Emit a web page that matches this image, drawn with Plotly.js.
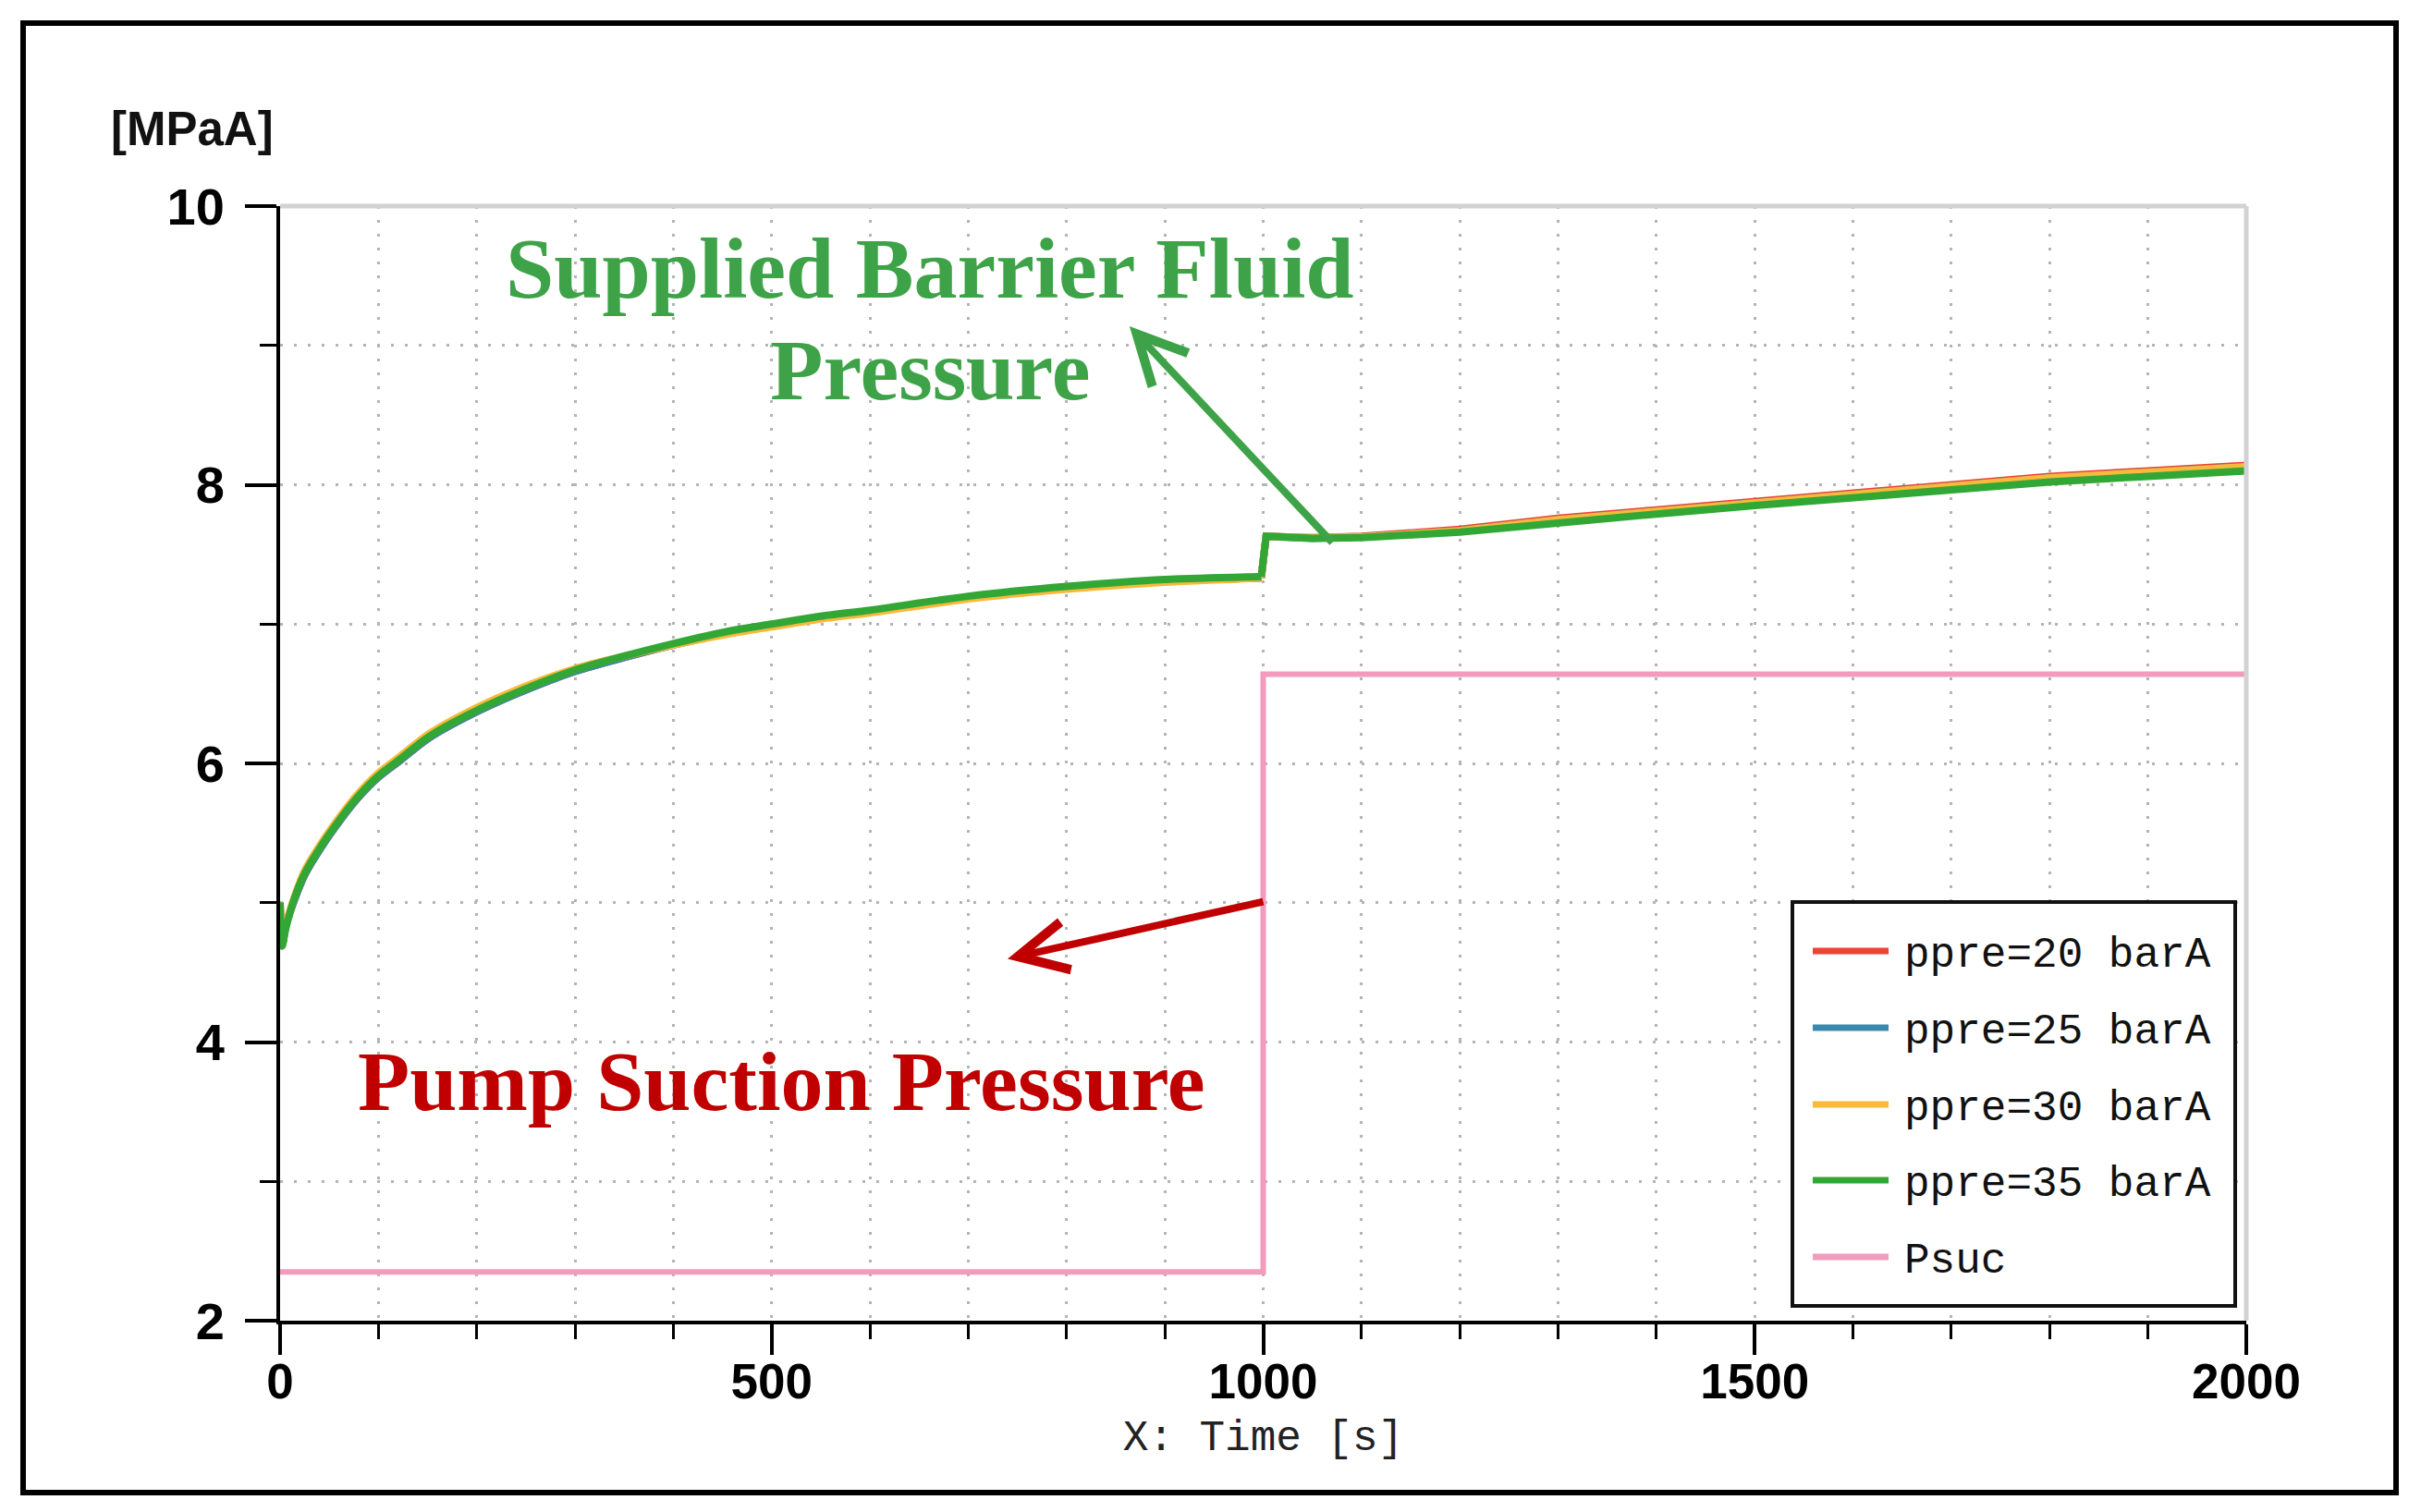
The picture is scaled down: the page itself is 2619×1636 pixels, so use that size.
<!DOCTYPE html>
<html>
<head>
<meta charset="utf-8">
<script src="https://cdn.plot.ly/plotly-3.0.1.min.js"></script>
<style>html,body{margin:0;padding:0;background:#fff;}#chart{width:2619px;height:1636px;}</style>
</head>
<body>
<div id="chart"></div>
<script>
// ---- data ----
var timeS = [0,2,6,14,25,43,61,79,100,122,151,200,241,300,350,400,457,500,553,600,700,800,900,998,1003,1050,1100,1200,1300,1400,1500,1600,1700,1800,1900,2000];
var ppre20 = [5.00,4.69,4.84,5.01,5.20,5.41,5.59,5.75,5.90,6.02,6.18,6.37,6.50,6.66,6.76,6.85,6.94,6.99,7.05,7.09,7.19,7.26,7.31,7.33,7.63,7.62,7.63,7.68,7.76,7.82,7.88,7.95,8.01,8.06,8.10,8.14];
var ppre25 = [5.00,4.69,4.84,5.01,5.20,5.41,5.59,5.75,5.90,6.02,6.18,6.37,6.50,6.66,6.76,6.85,6.94,6.99,7.05,7.09,7.19,7.26,7.31,7.33,7.63,7.615,7.625,7.67,7.75,7.81,7.87,7.93,7.99,8.05,8.09,8.13];
var ppre30 = [5.00,4.69,4.85,5.03,5.23,5.44,5.62,5.78,5.93,6.05,6.21,6.40,6.53,6.68,6.77,6.85,6.93,6.98,7.04,7.08,7.18,7.25,7.30,7.33,7.63,7.62,7.625,7.67,7.75,7.81,7.87,7.94,8.00,8.05,8.09,8.13];
var ppre35 = [5.00,4.69,4.82,5.02,5.21,5.42,5.60,5.76,5.91,6.03,6.19,6.38,6.51,6.67,6.77,6.86,6.95,7.00,7.06,7.10,7.20,7.27,7.32,7.34,7.63,7.615,7.62,7.66,7.73,7.79,7.85,7.91,7.97,8.02,8.06,8.10];
var psucTime = [0,1000,1000,2000];
var psucVal = [2.35,2.35,6.64,6.64];
var seriesNames = ['ppre=20 barA','ppre=25 barA','ppre=30 barA','ppre=35 barA','Psuc'];
var xTickVals = [0,500,1000,1500,2000];
var yTickVals = [2,4,6,8,10];

// ---- styling ----
var colors = ['#ee4237','#3b89ad','#f9b93b','#33a736','#f29bbd'];
var barrier = [ppre20, ppre25, ppre30, ppre35];
var jumpIdx = timeS.indexOf(998);
var traces = [];
barrier.forEach(function(vals, i){
  traces.push({type:'scatter', mode:'lines', name: seriesNames[i], showlegend:false,
    x: timeS.slice(0, jumpIdx + 1), y: vals.slice(0, jumpIdx + 1),
    line:{color: colors[i], width: 8, shape:'spline', smoothing:0.8}});
  traces.push({type:'scatter', mode:'lines', name: seriesNames[i], showlegend:false,
    x: timeS.slice(jumpIdx), y: vals.slice(jumpIdx),
    line:{color: colors[i], width: 8}});
});
traces.push({type:'scatter', mode:'lines', name: seriesNames[4], showlegend:false,
  x: psucTime, y: psucVal, line:{color: colors[4], width: 6}});

var L = 303, R = 2430, T = 223, B = 1429;
function px(x){ return (x - L) / (R - L); }
function py(y){ return (B - y) / (B - T); }

var gridStyle = {gridcolor: '#b4b4b4', gridwidth: 3, griddash: '3px,12px'};

var shapes = [
  {type:'rect', xref:'paper', yref:'paper', x0:px(25), x1:px(2592), y0:py(1615), y1:py(25), line:{color:'#000', width:6}, layer:'below'},
  {type:'line', xref:'paper', yref:'paper', x0:0, x1:1, y0:1, y1:1, line:{color:'#d2d2d2', width:5}},
  {type:'line', xref:'paper', yref:'paper', x0:1, x1:1, y0:0, y1:1, line:{color:'#d2d2d2', width:5}},
  {type:'rect', xref:'paper', yref:'paper', x0:px(1939), x1:px(2418), y0:py(1413), y1:py(976), line:{color:'#111', width:4}, fillcolor:'#fff'}
];
var rowsY = [1029,1112,1195,1277,1360];
var annotations = [];
rowsY.forEach(function(ry, i){
  shapes.push({type:'line', xref:'paper', yref:'paper', x0:px(1961), x1:px(2043), y0:py(ry), y1:py(ry), line:{color:colors[i], width:7}});
  annotations.push({xref:'paper', yref:'paper', x:px(2058), y:py(ry+5), xanchor:'left', yanchor:'middle', showarrow:false,
    text: seriesNames[i], font:{family:'Liberation Mono, monospace', size:46, color:'#111'}});
});

var green = '#3ea348', darkRed = '#c00000';
annotations.push(
  {xref:'paper', yref:'paper', x:px(208), y:py(139), xanchor:'center', yanchor:'middle', showarrow:false,
   text:'[MPaA]', font:{family:'Liberation Sans, Arial, sans-serif', size:51, color:'#111', weight:'bold'}},
  {x:661, y:9.555, xanchor:'center', yanchor:'middle', showarrow:false, text:'Supplied Barrier Fluid',
   font:{family:'Liberation Serif, Times New Roman, serif', size:94, color:green, weight:'bold'}},
  {x:661, y:8.826, xanchor:'center', yanchor:'middle', showarrow:false, text:'Pressure',
   font:{family:'Liberation Serif, Times New Roman, serif', size:94, color:green, weight:'bold'}},
  {x:510, y:3.715, xanchor:'center', yanchor:'middle', showarrow:false, text:'Pump Suction Pressure',
   font:{family:'Liberation Serif, Times New Roman, serif', size:92, color:darkRed, weight:'bold'}},
  {x:864, y:9.137, ax:1071.6, ay:7.575, axref:'x', ayref:'y', text:'', showarrow:true,
   arrowhead:5, arrowsize:1.3, arrowwidth:8, arrowcolor:green, standoff:0, startstandoff:0},
  {x:740, y:4.597, ax:1001.4, ay:5.01, axref:'x', ayref:'y', text:'', showarrow:true,
   arrowhead:5, arrowsize:1.3, arrowwidth:8, arrowcolor:darkRed, standoff:0, startstandoff:0}
);

var tickFont = {family:'Liberation Sans, Arial, sans-serif', color:'#000', weight:'bold'};

var layout = {
  width: 2619, height: 1636,
  margin: {l: L, r: 2619 - R, t: T, b: 1636 - B, pad: 0},
  paper_bgcolor: '#fff', plot_bgcolor: '#fff',
  showlegend: false,
  xaxis: Object.assign({
    range: [0, 2000], tickvals: xTickVals, ticktext: xTickVals.map(String),
    showline: true, linecolor: '#000', linewidth: 4, zeroline: false, showgrid: true,
    ticks: 'outside', ticklen: 33, tickwidth: 4, tickcolor: '#000',
    ticklabelstandoff: -17,
    tickfont: Object.assign({size: 53}, tickFont),
    minor: Object.assign({dtick: 100, tick0: 0, ticks: 'outside', ticklen: 16, tickwidth: 3, tickcolor: '#000', showgrid: true}, gridStyle),
    title: {text: 'X: Time [s]', standoff: 15, font: {family: 'Liberation Mono, monospace', size: 46, color: '#222'}},
    automargin: false, fixedrange: true
  }, gridStyle),
  yaxis: Object.assign({
    range: [2, 10], tickvals: yTickVals, ticktext: yTickVals.map(String),
    showline: true, linecolor: '#000', linewidth: 4, zeroline: false, showgrid: true,
    ticks: 'outside', ticklen: 34, tickwidth: 4, tickcolor: '#000',
    ticklabelstandoff: 11,
    tickfont: Object.assign({size: 56}, tickFont),
    minor: Object.assign({dtick: 1, tick0: 0, ticks: 'outside', ticklen: 18, tickwidth: 3, tickcolor: '#000', showgrid: true}, gridStyle),
    automargin: false, fixedrange: true
  }, gridStyle),
  shapes: shapes,
  annotations: annotations
};

Plotly.newPlot('chart', traces, layout, {displayModeBar: false, staticPlot: true});
</script>
</body>
</html>
